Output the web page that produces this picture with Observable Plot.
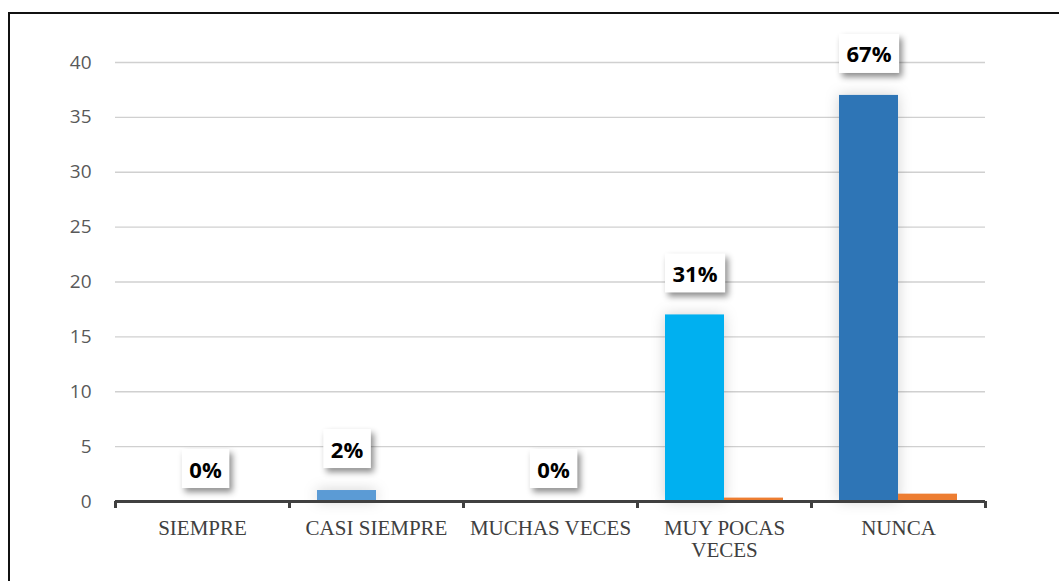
<!DOCTYPE html>
<html>
<head>
<meta charset="utf-8">
<script src="https://cdn.jsdelivr.net/npm/d3@7"></script>
<script src="https://cdn.jsdelivr.net/npm/@observablehq/plot@0.6"></script>
<style>
  html, body { margin: 0; padding: 0; background: #fff; overflow: hidden; }
  #frame { position: absolute; left: 8px; top: 12px; width: 1100px; height: 620px;
           border-left: 2px solid #111; border-top: 2px solid #111; box-sizing: border-box; }
  #chart { position: absolute; left: 0; top: 0; }
  .bar-shadow rect { filter: drop-shadow(0px 0px 7px rgba(0,0,0,0.18)); }
  .lbl-box { filter: drop-shadow(3px 4px 3px rgba(0,0,0,0.45)); }
</style>
</head>
<body>
<div id="frame"></div>
<div id="chart"></div>
<script>
const categories = ["SIEMPRE", "CASI SIEMPRE", "MUCHAS VECES", "MUY POCAS VECES", "NUNCA"];
const counts = [0, 1, 0, 17, 37];
const shares = [0, 0.02, 0, 0.31, 0.67];
const shareLabels = ["0%", "2%", "0%", "31%", "67%"];
const countColors = ["#5B9BD5", "#5B9BD5", "#5B9BD5", "#00B0F0", "#2E75B6"];
const yTicks = [0, 5, 10, 15, 20, 25, 30, 35, 40];
const boundaryTicks = [0, 1, 2, 3, 4, 5];

const rows = categories.map((c, i) => ({
  i, category: c, count: counts[i], share: shares[i], label: shareLabels[i], color: countColors[i]
}));

const catLabelLines = {
  "MUY POCAS VECES": "MUY POCAS\nVECES"
};

const chart = Plot.plot({
  width: 1059,
  height: 581,
  marginLeft: 115,
  marginRight: 74,
  marginTop: 62,
  marginBottom: 80,
  style: { background: "transparent", overflow: "visible" },
  x: { type: "linear", domain: [0, 5], axis: null, label: null },
  y: { domain: [0, 40], axis: null, label: null },
  marks: [
    Plot.ruleY(yTicks.filter(d => d > 0), { stroke: "#d0d0d0", strokeWidth: 1.3 }),
    Plot.axisY({
      ticks: yTicks, tickSize: 0, tickPadding: 24,
      fontSize: 19, fontFamily: "Open Sans", fill: "#595959", label: null
    }),
    Plot.rectY(rows.filter(d => d.count > 0), {
      x1: "i", x2: d => d.i + 1, y1: 0, y2: "count",
      insetLeft: 28, insetRight: 87, fill: "color", className: "bar-shadow"
    }),
    Plot.rectY(rows.filter(d => d.share > 0), {
      x1: "i", x2: d => d.i + 1, y1: 0, y2: "share",
      insetLeft: 87, insetRight: 28, fill: "#ED7D31"
    }),
    Plot.ruleY([0], { stroke: "#404040", strokeWidth: 3 }),
    Plot.axisX({
      ticks: boundaryTicks, tickSize: 7, tickFormat: () => "", stroke: "#404040",
      strokeWidth: 3, label: null
    }),
    Plot.axisX({
      ticks: categories.map((c, i) => i + 0.5), tickSize: 0, tickPadding: 18,
      tickFormat: v => { const c = categories[Math.round(v - 0.5)]; return catLabelLines[c] || c; },
      fontFamily: "Liberation Serif", fontSize: 21, fill: "#404040", label: null,
      lineHeight: 1.05
    }),
    Plot.text(rows.filter(d => d.count > 0), {
      x: d => d.i + 0.5, y: "count", text: "label", dx: -29.5, dy: -40,
      fontFamily: "Open Sans", fontWeight: "bold", fontSize: 22, fill: "#000",
      className: "pct-label"
    }),
    Plot.text(rows.filter(d => d.count === 0), {
      x: d => d.i + 0.5, y: "count", text: "label", dx: 3, dy: -31,
      fontFamily: "Open Sans", fontWeight: "bold", fontSize: 22, fill: "#000",
      className: "pct-label"
    })
  ]
});

document.getElementById("chart").appendChild(chart);

// white boxes with shadow behind the percentage labels
d3.select(chart).selectAll(".pct-label text").each(function () {
  const bb = this.getBBox();
  const tr = this.getAttribute("transform");
  const padX = 7.5, h = 39;
  const cy = bb.y + bb.height / 2;
  const r = document.createElementNS("http://www.w3.org/2000/svg", "rect");
  r.setAttribute("x", bb.x - padX);
  r.setAttribute("y", cy - h / 2);
  r.setAttribute("width", bb.width + 2 * padX);
  r.setAttribute("height", h);
  r.setAttribute("fill", "#fff");
  r.setAttribute("class", "lbl-box");
  if (tr) r.setAttribute("transform", tr);
  this.parentNode.insertBefore(r, this);
});
</script>
</body>
</html>
